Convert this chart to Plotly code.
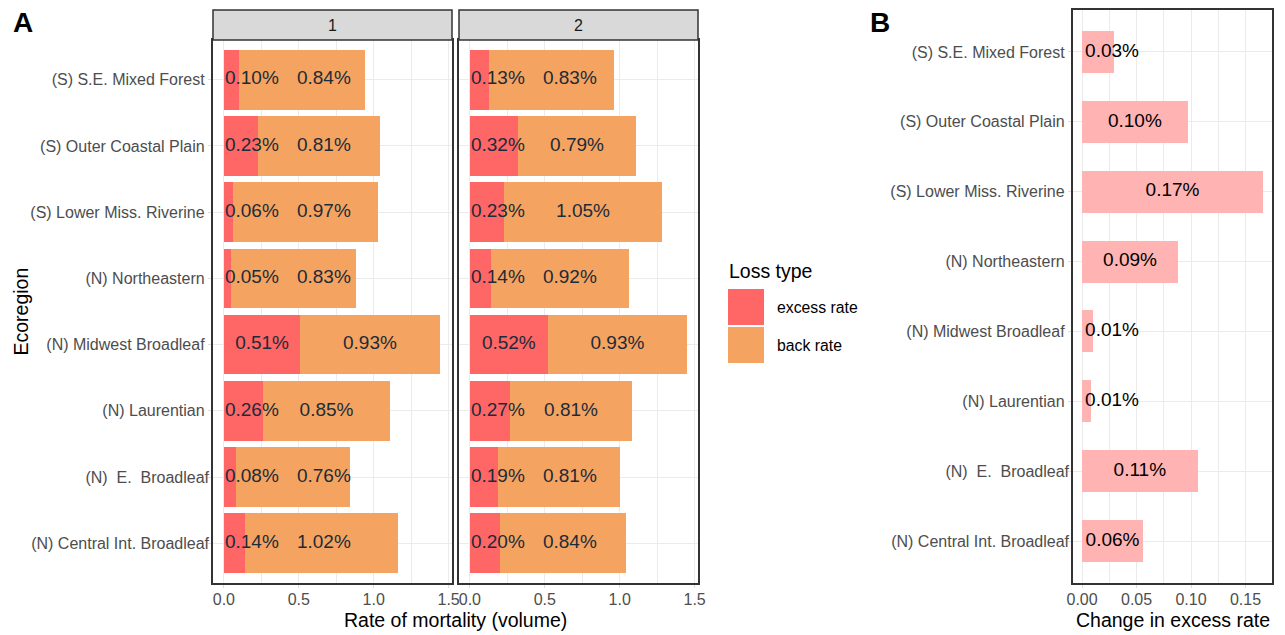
import plotly.graph_objects as go

W, H = 1285, 635

# ---------------- data ----------------
ecoregions = [
    "(N) Central Int. Broadleaf",
    "(N)\u00a0 E.\u00a0 Broadleaf",
    "(N) Laurentian\u00a0",
    "(N) Midwest Broadleaf\u00a0",
    "(N) Northeastern\u00a0",
    "(S) Lower Miss. Riverine\u00a0",
    "(S) Outer Coastal Plain\u00a0",
    "(S) S.E. Mixed Forest\u00a0",
]
excess_1 = [0.14, 0.08, 0.26, 0.51, 0.05, 0.06, 0.23, 0.10]
back_1 = [1.02, 0.76, 0.85, 0.93, 0.83, 0.97, 0.81, 0.84]
excess_2 = [0.20, 0.19, 0.27, 0.52, 0.14, 0.23, 0.32, 0.13]
back_2 = [0.84, 0.81, 0.81, 0.93, 0.92, 1.05, 0.79, 0.83]
change = [0.056, 0.106, 0.008, 0.010, 0.088, 0.166, 0.097, 0.029]
facets = ["1", "2"]
xticks_a = [0, 0.5, 1.0, 1.5]
xticks_b = [0, 0.05, 0.10, 0.15]

# ---------------- style ----------------
FONT = "Liberation Sans, Arial, sans-serif"
C_EX = "#FF6666"
C_BACK = "#F4A460"
C_CHANGE = "#FFB3B3"
GRID = "#EBEBEB"
TICKC = "#DDDDDD"
BORDER = "#333333"
LBL_A = "#1C2B3A"
TICK_SIZE = 16
LBL_SIZE = 19


def px(x):
    return x / W


def py(y):
    return 1 - y / H


# panel pixel boxes
A1 = (213, 452)
A2 = (459, 698)
B = (1073, 1272)
STRIP_TOP, A_TOP, B_TOP, BOT = 10, 40, 10, 583

amax = max(e + b for e, b in zip(excess_1 + excess_2, back_1 + back_2))
a_range = [-0.05 * amax, 1.05 * amax]
bmax = max(change)
b_range = [-0.05 * bmax, 1.05 * bmax]
pxA = (A1[1] - A1[0]) / (a_range[1] - a_range[0])
pxB = (B[1] - B[0]) / (b_range[1] - b_range[0])

fig = go.Figure()


def label_positions(ex, bk):
    ex_x, bk_x = [], []
    for e, b in zip(ex, bk):
        ec = max(e / 2, 28 / pxA)
        bc = max(e + b / 2, ec + 72 / pxA)
        ex_x.append(ec)
        bk_x.append(bc)
    return ex_x, bk_x


for i, (ex, bk) in enumerate([(excess_1, back_1), (excess_2, back_2)]):
    xa = "x" if i == 0 else "x2"
    ya = "y" if i == 0 else "y2"
    fig.add_trace(go.Bar(x=ex, y=ecoregions, orientation="h", marker=dict(color=C_EX, line=dict(width=0)),
                         xaxis=xa, yaxis=ya, showlegend=False, hoverinfo="x+y", name="excess rate"))
    fig.add_trace(go.Bar(x=bk, y=ecoregions, orientation="h", marker=dict(color=C_BACK, line=dict(width=0)),
                         xaxis=xa, yaxis=ya, showlegend=False, hoverinfo="x+y", name="back rate"))
    ex_x, bk_x = label_positions(ex, bk)
    fig.add_trace(go.Scatter(x=ex_x, y=ecoregions, mode="text", text=[f"{v:.2f}%" for v in ex],
                             textposition="middle center", textfont=dict(size=LBL_SIZE, color=LBL_A, family=FONT),
                             xaxis=xa, yaxis=ya, showlegend=False, hoverinfo="skip", cliponaxis=False))
    fig.add_trace(go.Scatter(x=bk_x, y=ecoregions, mode="text", text=[f"{v:.2f}%" for v in bk],
                             textposition="middle center", textfont=dict(size=LBL_SIZE, color=LBL_A, family=FONT),
                             xaxis=xa, yaxis=ya, showlegend=False, hoverinfo="skip", cliponaxis=False))

fig.add_trace(go.Bar(x=change, y=ecoregions, orientation="h", width=0.6,
                     marker=dict(color=C_CHANGE, line=dict(width=0)),
                     xaxis="x3", yaxis="y3", showlegend=False, name="change"))
fig.add_trace(go.Scatter(x=[max(v / 2, 30 / pxB) for v in change], y=ecoregions, mode="text",
                         text=[f"{v:.2f}%" for v in change], textposition="middle center",
                         textfont=dict(size=LBL_SIZE, color="#000000", family=FONT),
                         xaxis="x3", yaxis="y3", showlegend=False, hoverinfo="skip", cliponaxis=False))

common_x = dict(showgrid=True, gridcolor=GRID, gridwidth=1.1, zeroline=False, automargin=False,
                showline=True, mirror=True, linecolor=BORDER, linewidth=1.5,
                ticks="outside", ticklen=3, tickcolor=TICKC, ticklabelstandoff=-2,
                tickfont=dict(size=TICK_SIZE, color="#4D4D4D", family=FONT))
common_y = dict(type="category", categoryorder="array", categoryarray=ecoregions, automargin=False,
                range=[-0.6, len(ecoregions) - 0.4], showgrid=True, gridcolor=GRID, gridwidth=1.1,
                zeroline=False, showline=True, mirror=True, linecolor=BORDER, linewidth=1.5,
                tickfont=dict(size=TICK_SIZE, color="#4D4D4D", family=FONT))

fig.update_layout(
    width=W, height=H, margin=dict(l=0, r=0, t=0, b=0, pad=0, autoexpand=False),
    paper_bgcolor="white", plot_bgcolor="white",
    barmode="stack", bargap=0.1,
    font=dict(family=FONT),
    xaxis=dict(domain=[px(A1[0]), px(A1[1])], anchor="y", range=a_range,
               tickvals=xticks_a, ticktext=[f"{v:.1f}" for v in xticks_a],
               minor=dict(tickvals=[0.25, 0.75, 1.25], showgrid=True, gridcolor=GRID, gridwidth=0.55, ticks=""),
               **common_x),
    xaxis2=dict(domain=[px(A2[0]), px(A2[1])], anchor="y2", range=a_range,
                tickvals=xticks_a, ticktext=[f"{v:.1f}" for v in xticks_a],
                minor=dict(tickvals=[0.25, 0.75, 1.25], showgrid=True, gridcolor=GRID, gridwidth=0.55, ticks=""),
                **common_x),
    xaxis3=dict(domain=[px(B[0]), px(B[1])], anchor="y3", range=b_range,
                tickvals=xticks_b, ticktext=[f"{v:.2f}" for v in xticks_b],
                minor=dict(tickvals=[0.025, 0.075, 0.125], showgrid=True, gridcolor=GRID, gridwidth=0.55, ticks=""),
                **common_x),
    yaxis=dict(domain=[py(BOT), py(A_TOP)], anchor="x", ticks="outside", ticklen=3, tickcolor=TICKC,
               ticklabelstandoff=-4, **common_y),
    yaxis2=dict(domain=[py(BOT), py(A_TOP)], anchor="x2", showticklabels=False, ticks="", **common_y),
    yaxis3=dict(domain=[py(BOT), py(B_TOP)], anchor="x3", ticks="outside", ticklen=3, tickcolor=TICKC,
                ticklabelstandoff=-4, **common_y),
)

shapes = []
annotations = []
for (x0, x1), lab in zip([A1, A2], facets):
    shapes.append(dict(type="rect", xref="paper", yref="paper", x0=px(x0), x1=px(x1), y0=py(A_TOP),
                       y1=py(STRIP_TOP), fillcolor="#D9D9D9", line=dict(color=BORDER, width=1.5), layer="above"))
    annotations.append(dict(text=lab, x=px((x0 + x1) / 2), y=py((A_TOP + STRIP_TOP) / 2), xref="paper",
                            yref="paper", showarrow=False, xanchor="center", yanchor="middle",
                            font=dict(size=TICK_SIZE, color="#1A1A1A", family=FONT)))

# legend (drawn manually to match key sizes)
legend_items = [("excess rate", C_EX), ("back rate", C_BACK)]
annotations.append(dict(text="Loss type", x=px(727), y=py(271), xref="paper", yref="paper", showarrow=False,
                        xanchor="left", yanchor="middle", font=dict(size=19.5, color="#000000", family=FONT)))
for k, (name, col) in enumerate(legend_items):
    y0 = 289 + k * 38
    shapes.append(dict(type="rect", xref="paper", yref="paper", x0=px(728), x1=px(764), y0=py(y0 + 36), y1=py(y0),
                       fillcolor=col, line=dict(width=0)))
    annotations.append(dict(text=name, x=px(775), y=py(y0 + 18), xref="paper", yref="paper", showarrow=False,
                            xanchor="left", yanchor="middle", font=dict(size=15.8, color="#000000", family=FONT)))

# titles
annotations += [
    dict(text="Rate of mortality (volume)", x=px((A1[0] + A2[1]) / 2), y=py(620), xref="paper", yref="paper",
         showarrow=False, xanchor="center", yanchor="middle", font=dict(size=19.5, color="#000000", family=FONT)),
    dict(text="Change in excess rate", x=px((B[0] + B[1]) / 2), y=py(620), xref="paper", yref="paper",
         showarrow=False, xanchor="center", yanchor="middle", font=dict(size=19.5, color="#000000", family=FONT)),
    dict(text="Ecoregion", x=px(20), y=py((A_TOP + BOT) / 2), xref="paper", yref="paper", textangle=-90,
         showarrow=False, xanchor="center", yanchor="middle", font=dict(size=19.5, color="#000000", family=FONT)),
    dict(text="<b>A</b>", x=px(11), y=py(23), xref="paper", yref="paper", showarrow=False,
         xanchor="left", yanchor="middle", font=dict(size=28, color="#000000", family=FONT)),
    dict(text="<b>B</b>", x=px(868), y=py(23), xref="paper", yref="paper", showarrow=False,
         xanchor="left", yanchor="middle", font=dict(size=28, color="#000000", family=FONT)),
]
fig.update_layout(shapes=shapes, annotations=annotations)

fig.write_html("out.html", config={"displayModeBar": False},
               post_script="document.body.style.margin='0';document.body.style.overflow='hidden';")
